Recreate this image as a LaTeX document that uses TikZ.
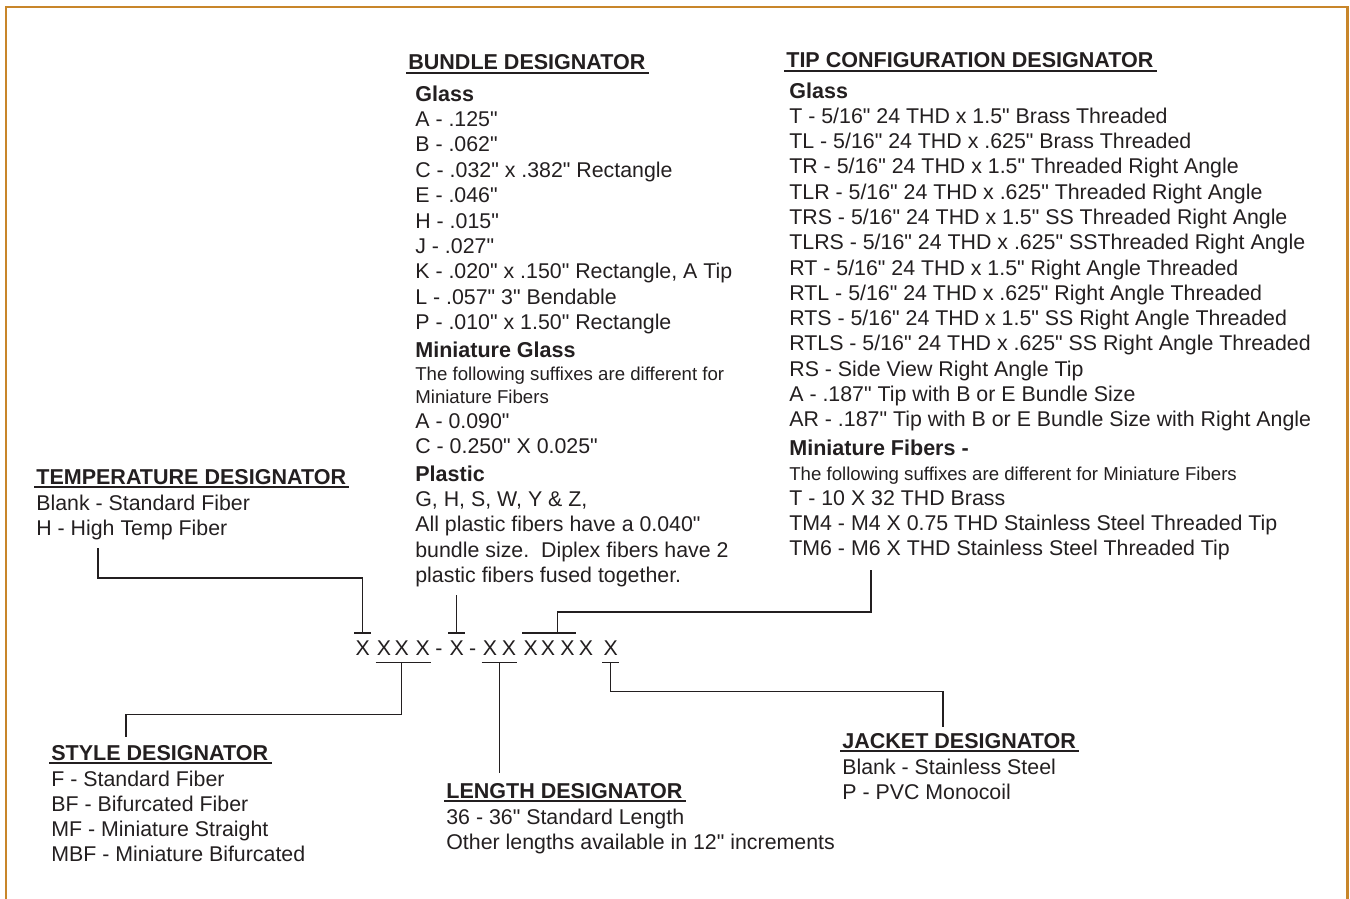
\documentclass[tikz,border=0pt]{standalone}
\usepackage{fontspec}
\setmainfont{Liberation Sans}[Ligatures=TeXOff]
\usetikzlibrary{calc}
\definecolor{ink}{HTML}{231F20}
\definecolor{frame}{HTML}{C8862A}

\begin{document}
\begin{tikzpicture}[x=0.02cm, y=-0.02cm,
    every node/.style={inner sep=0pt, anchor=base west, text=ink},
    head/.style={font=\fontsize{12.25}{14}\selectfont\bfseries},
    txt/.style={font=\fontsize{12.15}{14}\selectfont},
    small/.style={font=\fontsize{10.6}{12}\selectfont},
    code/.style={font=\fontsize{12.15}{14}\selectfont, anchor=base, inner xsep=0.5pt, inner ysep=4pt},
    lead/.style={draw=ink, line width=0.7pt},
    uline/.style={draw=ink, line width=1pt}]
    \useasboundingbox (0,0) rectangle (1350,899);
    \draw[frame, line width=1.7pt] (6,899) -- (6,7) -- (1347,7) -- (1347,899);

    % temperature
    \node[head] (th) at (36,484) {TEMPERATURE DESIGNATOR};
    \node[txt] (t1) at (36,510) {Blank - Standard Fiber};
    \node[txt] (t2) at (36,535) {H - High Temp Fiber};

    % bundle
    \node[head] (bh) at (408,70) {BUNDLE DESIGNATOR};
    \node[head] (b0) at (415,101) {Glass};
    \node[txt] (b1) at (415,126) {A - .125"};
    \node[txt] (b2) at (415,151) {B - .062"};
    \node[txt] (b3) at (415,177) {C - .032" x .382" Rectangle};
    \node[txt] (b4) at (415,202) {E - .046"};
    \node[txt] (b5) at (415,228) {H - .015"};
    \node[txt] (b6) at (415,253) {J - .027"};
    \node[txt] (b7) at (415,278) {K - .020" x .150" Rectangle, A Tip};
    \node[txt] (b8) at (415,304) {L - .057" 3" Bendable};
    \node[txt] (b9) at (415,329) {P - .010" x 1.50" Rectangle};
    \node[head] (b10) at (415,357) {Miniature Glass};
    \node[small] (b11) at (415,380) {The following suffixes are different for};
    \node[small] (b12) at (415,403) {Miniature Fibers};
    \node[txt] (b13) at (415,428) {A - 0.090"};
    \node[txt] (b14) at (415,453) {C - 0.250" X 0.025"};
    \node[head] (b15) at (415,481) {Plastic};
    \node[txt] (b16) at (415,506) {G, H, S, W, Y \& Z,};
    \node[txt] (b17) at (415,531) {All plastic fibers have a 0.040"};
    \node[txt] (b18) at (415,557) {bundle size.\ \ Diplex fibers have 2};
    \node[txt] (b19) at (415,582) {plastic fibers fused together.};

    % tip configuration
    \node[head] (ph) at (786,68) {TIP CONFIGURATION DESIGNATOR};
    \node[head] (p0) at (789,98) {Glass};
    \node[txt] (p1) at (789,123) {T - 5/16" 24 THD x 1.5" Brass Threaded};
    \node[txt] (p2) at (789,148) {TL - 5/16" 24 THD x .625" Brass Threaded};
    \node[txt] (p3) at (789,173) {TR - 5/16" 24 THD x 1.5" Threaded Right Angle};
    \node[txt] (p4) at (789,199) {TLR - 5/16" 24 THD x .625" Threaded Right Angle};
    \node[txt] (p5) at (789,224) {TRS - 5/16" 24 THD x 1.5" SS Threaded Right Angle};
    \node[txt] (p6) at (789,249) {TLRS - 5/16" 24 THD x .625" SSThreaded Right Angle};
    \node[txt] (p7) at (789,275) {RT - 5/16" 24 THD x 1.5" Right Angle Threaded};
    \node[txt] (p8) at (789,300) {RTL - 5/16" 24 THD x .625" Right Angle Threaded};
    \node[txt] (p9) at (789,325) {RTS - 5/16" 24 THD x 1.5" SS Right Angle Threaded};
    \node[txt] (p10) at (789,350) {RTLS - 5/16" 24 THD x .625" SS Right Angle Threaded};
    \node[txt] (p11) at (789,376) {RS - Side View Right Angle Tip};
    \node[txt] (p12) at (789,401) {A - .187" Tip with B or E Bundle Size};
    \node[txt] (p13) at (789,426) {AR - .187" Tip with B or E Bundle Size with Right Angle};
    \node[head] (p14) at (789,455) {Miniature Fibers -};
    \node[small] (p15) at (789,480) {The following suffixes are different for Miniature Fibers};
    \node[txt] (p16) at (789,505) {T - 10 X 32 THD Brass};
    \node[txt] (p17) at (789,530) {TM4 - M4 X 0.75 THD Stainless Steel Threaded Tip};
    \node[txt] (p18) at (789,555) {TM6 - M6 X THD Stainless Steel Threaded Tip};

    % style
    \node[head] (sh) at (51,760) {STYLE DESIGNATOR};
    \node[txt] (s1) at (51,786) {F - Standard Fiber};
    \node[txt] (s2) at (51,811) {BF - Bifurcated Fiber};
    \node[txt] (s3) at (51,836) {MF - Miniature Straight};
    \node[txt] (s4) at (51,861) {MBF - Miniature Bifurcated};

    % length
    \node[head] (lh) at (446,798) {LENGTH DESIGNATOR};
    \node[txt] (l1) at (446,824) {36 - 36" Standard Length};
    \node[txt] (l2) at (446,849) {Other lengths available in 12" increments};

    % jacket
    \node[head] (jh) at (842,748) {JACKET DESIGNATOR};
    \node[txt] (j1) at (842,774) {Blank - Stainless Steel};
    \node[txt] (j2) at (842,799) {P - PVC Monocoil};

    \foreach \h in {th,bh,ph,sh,lh,jh}
        \draw[uline] ($(\h.base west)+(-2,3)$) -- ($(\h.base east)+(3,3)$);

    % part number
    \node[code] (x1) at (362.7,655) {X};
    \node[code] (x2) at (384,655) {X};
    \node[code] (x3) at (401.7,655) {X};
    \node[code] (x4) at (422.7,655) {X};
    \node[code] (d1) at (439,655) {-};
    \node[code] (x5) at (456.7,655) {X};
    \node[code] (d2) at (472.7,655) {-};
    \node[code] (x6) at (490,655) {X};
    \node[code] (x7) at (509,655) {X};
    \node[code] (x8) at (530.7,655) {X};
    \node[code] (x9) at (548,655) {X};
    \node[code] (x10) at (567.5,655) {X};
    \node[code] (x11) at (586,655) {X};
    \node[code] (x12) at (610.7,655) {X};

    \coordinate (x910) at ($(x9.north)!.5!(x10.north)$);
    \coordinate (x67) at ($(x6.south)!.5!(x7.south)$);
    \coordinate (tempend) at (98,548);
    \coordinate (bundleend) at (x5.north |- 0,595);
    \coordinate (tipend) at (871,570);
    \coordinate (styleend) at (126,737);
    \coordinate (lengthend) at (x67 |- 0,773);
    \coordinate (jacketend) at (943,727);

    % leaders
    \draw[lead] (tempend) -- ++(0,30) -| (x1.north);
    \draw[lead] (x1.north west) -- (x1.north east);
    \draw[lead] (bundleend) -- (x5.north);
    \draw[lead] (x5.north west) -- (x5.north east);
    \draw[lead] (tipend) -- ++(0,42) -| (x910);
    \draw[lead] (x8.north west) -- (x10.north east);
    \draw[lead] (x2.south west) -- (x4.south east);
    \draw[lead] (x3.south) -- ++(0,52) -| (styleend);
    \draw[lead] (x6.south west) -- (x7.south east);
    \draw[lead] (x67) -- (lengthend);
    \draw[lead] (x12.south west) -- (x12.south east);
    \draw[lead] (x12.south) -- ++(0,29) -| (jacketend);
\end{tikzpicture}
\end{document}
